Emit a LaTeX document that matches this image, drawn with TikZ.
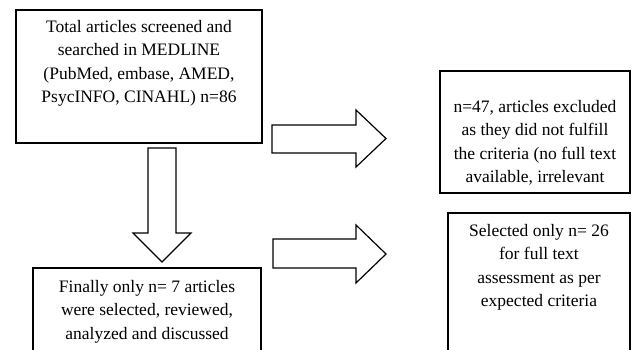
\documentclass[tikz,border=0pt]{standalone}
\usepackage{fontspec}
\setmainfont{Liberation Serif}
\begin{document}
\begin{tikzpicture}[x=1pt,y=-1pt,
 box/.style={draw=black,line width=1.4pt,fill=white,inner sep=0pt},
 txt/.style={font=\fontsize{17.5}{23.5}\selectfont,align=center,inner sep=0pt,anchor=north},
 blockarrow/.style={draw=black,line width=1.2pt,fill=white,line join=miter}]
\useasboundingbox (0,0) rectangle (633,350);
\clip (0,0) rectangle (633,350);
\fill[white] (0,0) rectangle (633,350);
% boxes
\node[box,minimum width=246pt,minimum height=133pt] (b1) at (139,76.5) {};
\node[box,minimum width=190pt,minimum height=122pt] (b2) at (535,132) {};
\node[box,minimum width=182pt,minimum height=167pt] (b3) at (539,296.5) {};
\node[box,minimum width=228pt,minimum height=112pt] (b4) at (147,324) {};
% texts
\node[txt] (t1) at (139,20) {Total articles screened and\\searched in MEDLINE\\(PubMed, embase, AMED,\\PsycINFO, CINAHL) n=86};
\node[txt] (t2) at (535,100) {n=47, articles excluded\\as they did not fulfill\\the criteria (no full text\\available, irrelevant};
\node[txt] (t3) at (539,224) {Selected only n= 26\\for full text\\assessment as per\\expected criteria};
\node[txt] (t4) at (147,280) {Finally only n= 7 articles\\were selected, reviewed,\\analyzed and discussed};
% block arrows
\draw[blockarrow] (148,148) -- (176,148) -- (176,233) -- (191,233) -- (162,262) -- (133,233) -- (148,233) -- cycle;
\draw[blockarrow] (272,125) -- (356,125) -- (356,110) -- (386,138.5) -- (356,167) -- (356,153) -- (272,153) -- cycle;
\draw[blockarrow] (273,239) -- (356,239) -- (356,225) -- (386,254) -- (356,283) -- (356,268) -- (273,268) -- cycle;
\end{tikzpicture}
\end{document}
